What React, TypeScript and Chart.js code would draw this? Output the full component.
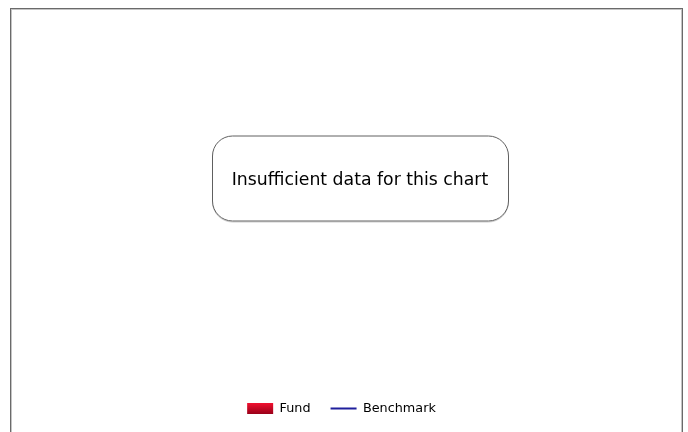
import React, { useEffect, useRef } from "react";
import { Chart, registerables } from "chart.js";

Chart.register(...registerables);

// ---- data (the chart has no data points: it shows an "insufficient data" notice) ----
const categories: string[] = [];
const fundValues: number[] = [];
const benchmarkValues: number[] = [];
const seriesNames = ["Fund", "Benchmark"];
const noDataMessage = "Insufficient data for this chart";

const FONT = "'DejaVu Sans', Verdana, sans-serif";
const FUND_TOP = "#f0102f";
const FUND_BOTTOM = "#980019";
const FUND_MID = "#cc0024";
const BENCH = "#1f1f9c";

const messagePlugin = {
  id: "noDataMessage",
  afterDraw(chart: any) {
    const { ctx, chartArea } = chart;
    const cx = Math.round((chartArea.left + chartArea.right) / 2);
    const cy = Math.round((chartArea.top + chartArea.bottom) / 2);
    const w = 296;
    const h = 85;
    const x0 = cx - w / 2 + 0.5;
    const y0 = cy - h / 2 + 0.5;
    ctx.save();
    ctx.beginPath();
    ctx.roundRect(x0, y0 + 1, w, h, 20);
    ctx.strokeStyle = "rgba(0,0,0,0.2)";
    ctx.lineWidth = 1;
    ctx.stroke();
    ctx.beginPath();
    ctx.roundRect(x0, y0, w, h, 20);
    ctx.fillStyle = "#ffffff";
    ctx.fill();
    ctx.strokeStyle = "#606060";
    ctx.stroke();
    ctx.fillStyle = "#000000";
    ctx.font = `17.3px ${FONT}`;
    ctx.textAlign = "center";
    ctx.textBaseline = "middle";
    ctx.fillText(noDataMessage, cx, cy + 2.5);
    ctx.restore();
  },
};

const legendGradientPlugin = {
  id: "legendGradient",
  beforeDraw(chart: any) {
    const legend = chart.legend;
    if (!legend || !legend.legendHitBoxes || !legend.legendHitBoxes.length) return;
    const hb = legend.legendHitBoxes[0];
    const fs = legend.options.labels.font.size || 12;
    const cy = hb.top + fs / 2;
    const g = chart.ctx.createLinearGradient(0, cy - 5.5, 0, cy + 5.5);
    g.addColorStop(0, FUND_TOP);
    g.addColorStop(1, FUND_BOTTOM);
    legend.legendItems[0].fillStyle = g;
  },
};

export default function App() {
  const canvasRef = useRef<HTMLCanvasElement | null>(null);

  useEffect(() => {
    if (!canvasRef.current) return;
    const chart = new Chart(canvasRef.current, {
      type: "bar",
      data: {
        labels: categories,
        datasets: [
          {
            type: "bar",
            label: seriesNames[0],
            data: fundValues,
            backgroundColor: FUND_MID,
          },
          {
            type: "line",
            label: seriesNames[1],
            data: benchmarkValues,
            borderColor: BENCH,
            borderWidth: 2,
            pointRadius: 0,
          } as any,
        ],
      },
      options: {
        animation: false,
        responsive: true,
        maintainAspectRatio: false,
        layout: { padding: { left: 0, right: 10, top: 0, bottom: 0 } },
        scales: {
          x: {
            display: true,
            ticks: { display: false },
            grid: { display: false },
            border: { display: false },
            afterFit: (axis: any) => {
              axis.height = 35;
            },
          },
          y: {
            display: true,
            ticks: { display: false },
            grid: { display: false },
            border: { display: false },
            afterFit: (axis: any) => {
              axis.width = 37;
            },
          },
        },
        plugins: {
          tooltip: { enabled: false },
          title: { display: false },
          legend: {
            display: true,
            position: "bottom",
            labels: {
              usePointStyle: true,
              pointStyleWidth: 26,
              boxWidth: 26,
              boxHeight: 11,
              padding: 20,
              color: "#000000",
              font: { family: FONT, size: 12.8 },
              generateLabels: (c: any) =>
                c.data.datasets.map((ds: any, i: number) => ({
                  text: ds.label,
                  datasetIndex: i,
                  hidden: false,
                  fontColor: "#000000",
                  pointStyle: i === 0 ? "rect" : "line",
                  fillStyle: i === 0 ? FUND_MID : BENCH,
                  strokeStyle: i === 0 ? FUND_MID : BENCH,
                  lineWidth: i === 0 ? 0 : 2,
                })),
            },
          },
        },
      },
      plugins: [legendGradientPlugin, messagePlugin],
    });
    return () => chart.destroy();
  }, []);

  return (
    <div
      style={{
        position: "absolute",
        left: 10,
        top: 8,
        width: 673,
        height: 440,
        boxSizing: "border-box",
        border: "1px solid #6a6a6a",
        boxShadow: "inset 1px 1px 0 #c4c4c4, inset -1px 0 0 #c4c4c4",
        background: "#ffffff",
      }}
    >
      <div style={{ position: "absolute", left: 0, top: 0, width: 671, height: 416 }}>
        <canvas ref={canvasRef} />
      </div>
    </div>
  );
}
